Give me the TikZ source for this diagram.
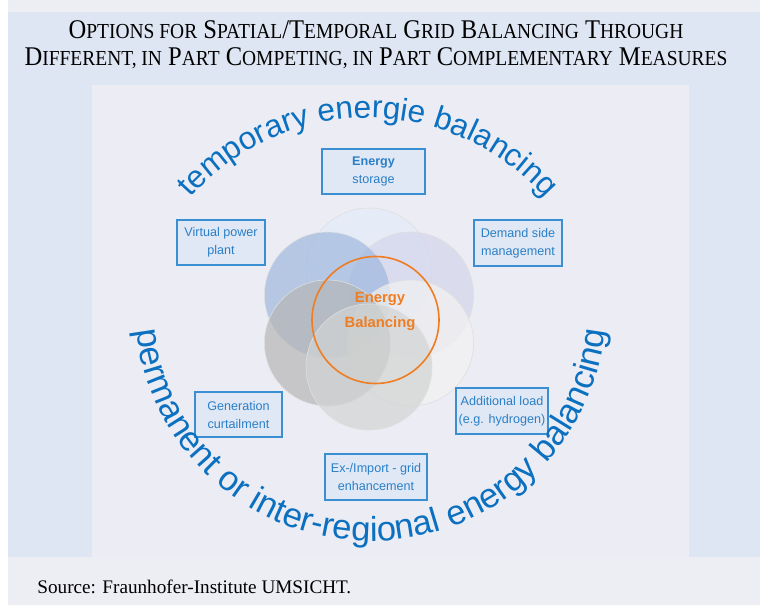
\documentclass[tikz,border=0pt]{standalone}
\usepackage{fontspec}
\setmainfont{Liberation Serif}
\setsansfont{Liberation Sans}
\usetikzlibrary{decorations.text}
\definecolor{outerbg}{HTML}{EDEDF4}
\definecolor{bluebg}{HTML}{DFE6F3}
\definecolor{panelbg}{HTML}{ECECF5}
\definecolor{boxfill}{HTML}{E0E8F6}
\definecolor{boxline}{HTML}{3A8FD2}
\definecolor{boxtext}{HTML}{2A7FC6}
\definecolor{arctext}{HTML}{0A70BF}
\definecolor{balorange}{HTML}{EF7D22}
\definecolor{petaltop}{RGB}{227,236,248}
\definecolor{petalul}{RGB}{160,184,222}
\definecolor{petalur}{RGB}{213,213,236}
\definecolor{petalll}{RGB}{182,183,182}
\definecolor{petallr}{RGB}{242,242,241}
\definecolor{petalbot}{RGB}{210,212,212}
\newcommand\capsc[2]{#1{\fontsize{10.7}{13.5}\selectfont #2}}

\begin{document}
\begin{tikzpicture}[x=0.5pt,y=-0.5pt,
  optbox/.style={draw=boxline,fill=boxfill,line width=0.6pt,text=boxtext,align=center,
    font=\sffamily\fontsize{6.3}{9}\selectfont,inner sep=0pt},
  petal/.style={fill opacity=0.7,draw=white!75!gray,line width=0.3pt},
  arcword/.style 2 args={decorate,decoration={text along path,text align=center,text color=arctext,
    text={|\sffamily\fontsize{#1}{18}\selectfont|#2}}}]
\useasboundingbox (0,0) rectangle (760,605);
% backgrounds
\fill[white] (0,0) rectangle (760,605);
\fill[outerbg] (8,0) rectangle (760,605);
\fill[bluebg] (8,12) rectangle (760,557);
\fill[panelbg] (92,85) rectangle (689,557);

\node[font=\fontsize{13.5}{13.5}\selectfont,align=center,xscale=0.91,transform shape] (title) at (376,45)
  {\capsc{O}{PTIONS FOR} \capsc{S}{PATIAL}/\capsc{T}{EMPORAL} \capsc{G}{RID} \capsc{B}{ALANCING} \capsc{T}{HROUGH}\\
   \capsc{D}{IFFERENT, IN} \capsc{P}{ART} \capsc{C}{OMPETING, IN} \capsc{P}{ART} \capsc{C}{OMPLEMENTARY} \capsc{M}{EASURES}};

% petals
\coordinate (hub) at (369,319);
\foreach \ang/\col in {-90/petaltop,-30/petalur,-150/petalul,30/petallr,150/petalll,90/petalbot}
  \filldraw[petal,fill=\col] (hub) ++(\ang:48) circle[radius=63];
\draw[balorange,line width=0.8pt] (375.5,320) circle[radius=63.5];
\node[text=balorange,font=\sffamily\bfseries\fontsize{7.4}{12.5}\selectfont,align=center] (bal) at (380,311)
  {Energy\\Balancing};

% measures
\node[optbox,minimum width=51.5pt,minimum height=22.5pt] (storage) at (373.5,171.5) {\textbf{Energy}\\storage};
\node[optbox,minimum width=44pt,minimum height=22.5pt] (vpp) at (221,242.5) {Virtual power\\plant};
\node[optbox,minimum width=44pt,minimum height=23pt] (dsm) at (518,243) {Demand side\\management};
\node[optbox,minimum width=43.5pt,minimum height=22.5pt] (curtail) at (238.5,414.5) {Generation\\curtailment};
\node[optbox,minimum width=46pt,minimum height=23pt] (load) at (502,411) {Additional load\\(e.g. hydrogen)};
\node[optbox,minimum width=51pt,minimum height=23pt] (grid) at (376,477) {Ex-/Import - grid\\enhancement};

% arc labels
\path[arcword={15.8}{temporary energie balancing}] (368,354) ++(-170:236) arc[start angle=-170,end angle=-10,radius=236];
\path[arcword={17.3}{permanent or inter-regional energy balancing}] (371,305) ++(195:236) arc[start angle=195,end angle=-15,radius=236];

\node[anchor=west,inner sep=0pt,font=\fontsize{9.6}{11}\selectfont] (source) at (37,587) {Source: Fraunhofer-Institute UMSICHT.};
\end{tikzpicture}
\end{document}
